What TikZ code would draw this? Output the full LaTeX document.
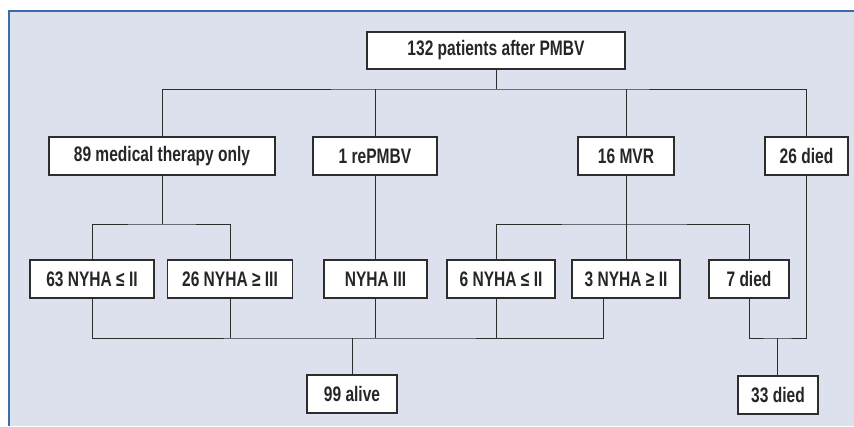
\documentclass[tikz,border=0pt]{standalone}
\usepackage{fontspec}
\setmainfont{Liberation Sans}[FakeStretch=0.74]
\definecolor{panelfill}{RGB}{221,225,238}
\definecolor{panelborder}{RGB}{58,110,170}
\definecolor{linec}{RGB}{45,45,45}
\tikzset{
  box/.style={draw=linec, line width=1.1pt, fill=white, minimum height=38pt, inner sep=0pt,
    font=\fontsize{21}{23}\selectfont\bfseries, text=black!85},
  conn/.style={draw=linec, line width=1pt},
}
\begin{document}
\begin{tikzpicture}[x=1pt,y=-1pt]
\useasboundingbox (0,0) rectangle (854,426);
\fill[panelfill] (9,11) rectangle (854,426);
\draw[panelborder, line width=1.8pt] (9,426) -- (9,11) -- (854,11);

% nodes
\node[box, minimum width=258pt, minimum height=37pt] (top) at (496,50.5) {132 patients after PMBV};
\node[box, minimum width=226pt] (med) at (162,156) {89 medical therapy only};
\node[box, minimum width=124pt] (rep) at (375,156) {1 rePMBV};
\node[box, minimum width=96pt] (mvr) at (626,156) {16 MVR};
\node[box, minimum width=83pt] (d26) at (806.5,156) {26 died};

\node[box, minimum width=124pt] (n63) at (92,279) {63 NYHA ≤ II};
\node[box, minimum width=125pt] (n26) at (230,279) {26 NYHA ≥ III};
\node[box, minimum width=103pt] (n3) at (375.5,279) {NYHA III};
\node[box, minimum width=108pt] (n6) at (501,279) {6 NYHA ≤ II};
\node[box, minimum width=108pt] (n3b) at (626,279) {3 NYHA ≥ II};
\node[box, minimum width=80pt] (d7) at (749,279) {7 died};

\node[box, minimum width=90pt] (alive) at (352,394) {99 alive};
\node[box, minimum width=80pt] (d33) at (778,395) {33 died};

% level 1
\coordinate (b1) at (496,89);
\draw[conn] (top.south) -- (b1);
\draw[conn] (med.north) |- (b1) -| (d26.north);
\draw[conn] (rep.north) -- (rep.north |- b1);
\draw[conn] (mvr.north) -- (mvr.north |- b1);

% level 2
\coordinate (m2) at (162,224);
\draw[conn] (med.south) -- (m2);
\draw[conn] (n63.north) |- (m2) -| (n26.north);
\draw[conn] (rep.south) -- (rep.south |- n3.north);
\coordinate (m3) at (626,224);
\draw[conn] (mvr.south) -- (m3);
\draw[conn] ([xshift=-5pt]n6.north) |- (m3) -| (d7.north);
\draw[conn] (m3) -- (n3b.north);

% level 3
\coordinate (b3) at (352,338);
\draw[conn] (n63.south) |- (b3) -| ([xshift=-23pt]n3b.south);
\draw[conn] (n26.south) -- (n26.south |- b3);
\draw[conn] (n3.south) -- (n3.south |- b3);
\draw[conn] ([xshift=-5pt]n6.south) -- ([xshift=-5pt]n6.south |- b3);
\draw[conn] (b3) -- (alive.north);
\coordinate (b4) at (777,338);
\draw[conn] (d7.south) |- (b4) -| (d26.south);
\draw[conn] (b4) -- (b4 |- d33.north);
\end{tikzpicture}
\end{document}
